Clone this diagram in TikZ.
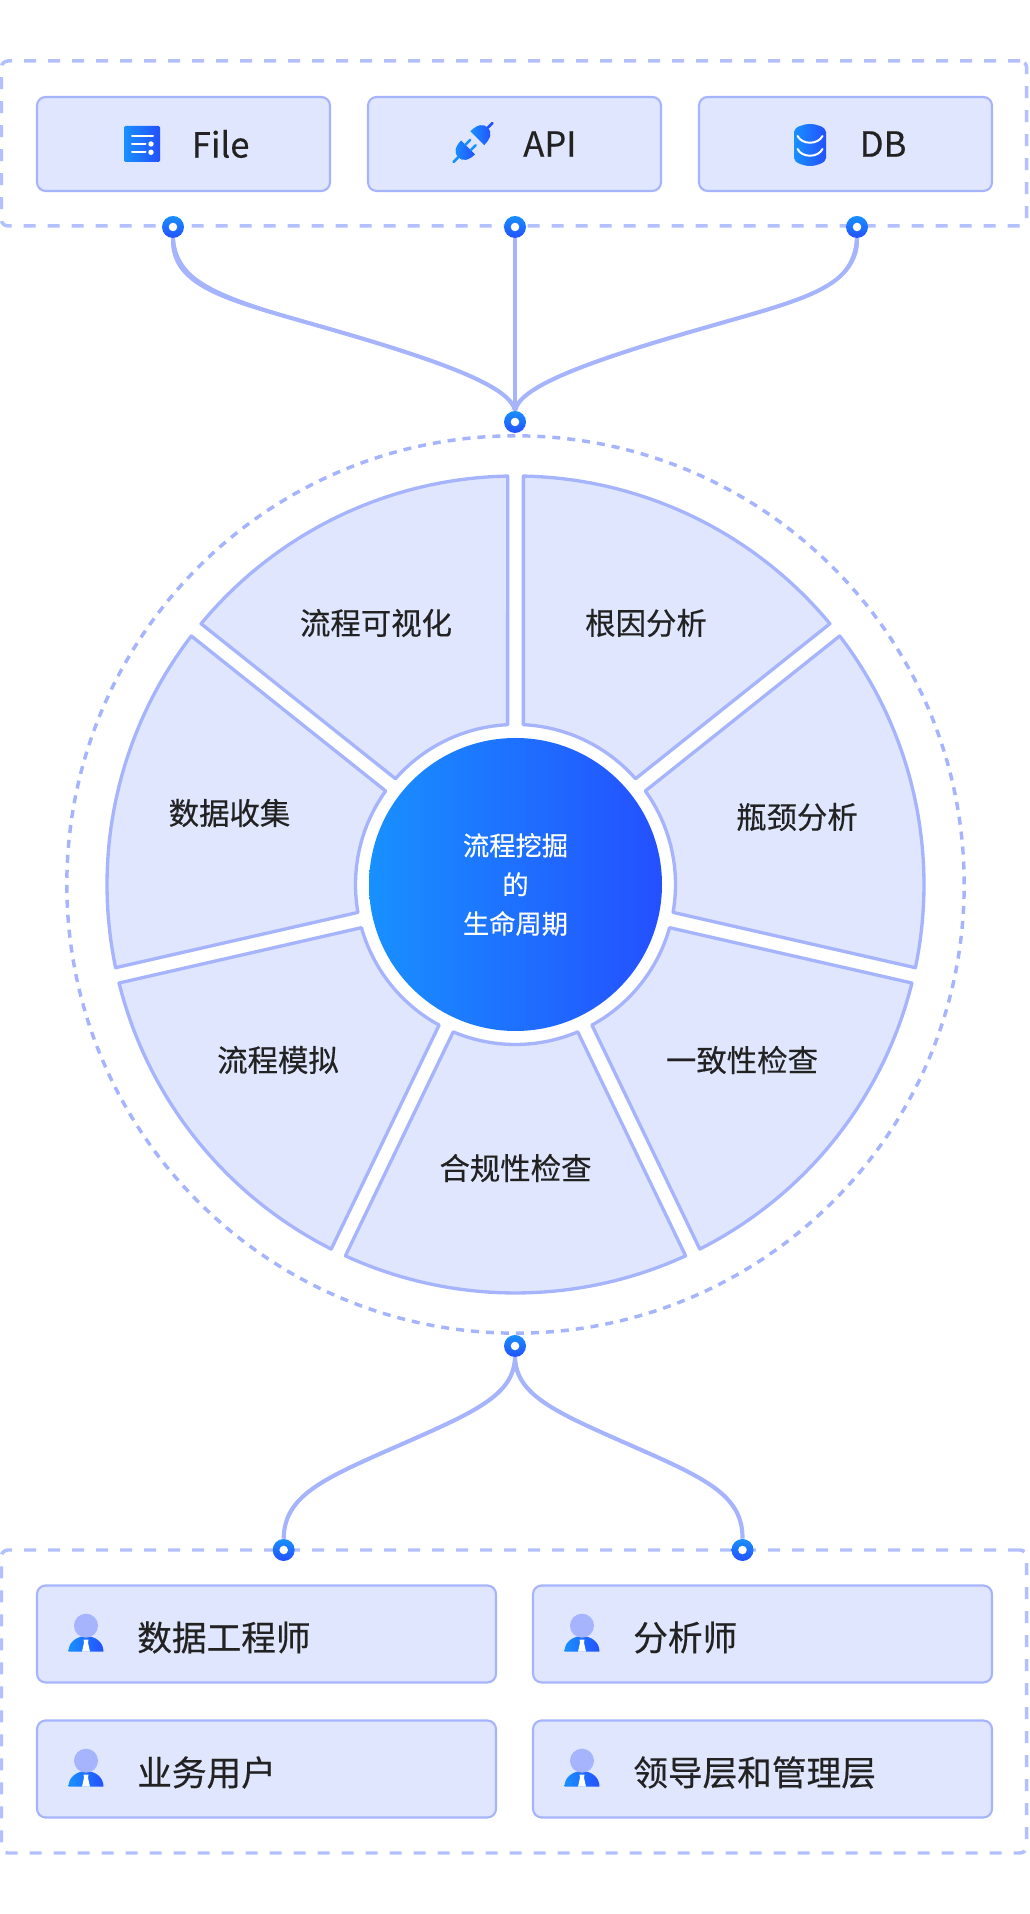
\documentclass[tikz,border=0pt]{standalone}
\usepackage{fontspec}
\setmainfont{Noto Sans CJK SC}[RawFeature={embolden=0.4}]
\usetikzlibrary{calc}

\definecolor{boxfill}{HTML}{DFE6FD}
\definecolor{boxline}{HTML}{A6B4FE}
\definecolor{dashline}{HTML}{B3C0FF}
\definecolor{gradA}{HTML}{1890FF}
\definecolor{gradB}{HTML}{2450FF}
\definecolor{inkc}{HTML}{222222}

\tikzset{
  groupbox/.style={draw=dashline, line width=2.6pt, dash pattern=on 9pt off 9pt, rounded corners=5pt, minimum width=769pt, inner sep=0pt},
  srcbox/.style={draw=boxline, fill=boxfill, line width=1.6pt, rounded corners=6.5pt, minimum width=219.75pt, minimum height=70.5pt, inner sep=0pt},
  usrbox/.style={draw=boxline, fill=boxfill, line width=1.6pt, rounded corners=6.5pt, minimum width=344.25pt, minimum height=72.75pt, inner sep=0pt},
  dotc/.style={circle, minimum size=16.5pt, inner sep=0pt, top color=gradA, bottom color=gradB, path picture={\fill[white] (path picture bounding box.center) circle (3.2pt);}},
  link/.style={draw=boxline, line width=3.1pt},
  flare/.style={fill=boxline},
  sector/.style={draw=boxline, fill=boxfill, line width=2.5pt, line join=round},
  bigtext/.style={text=inkc, font=\fontsize{26}{30}\selectfont, inner sep=0pt},
  wheeltext/.style={text=inkc, font=\fontsize{22.8}{27}\selectfont, inner sep=0pt},
  person icon/.pic={
    \shade[left color=gradA, right color=gradB] (-17.5,-26) .. controls (-17.5,-16) and (-9,-10.5) .. (0,-10.5) .. controls (9,-10.5) and (17.5,-16) .. (17.5,-26) -- cycle;
    \fill[boxline] (0,0) circle (12);
    \fill[white] (-2.5,-14) -- (2.5,-14) -- (2,-17) -- (4,-26) -- (-4,-26) -- (-2,-17) -- cycle;
  }
}

\begin{document}
\begin{tikzpicture}[x=0.75pt, y=0.75pt]
 \useasboundingbox (0,0) rectangle (1029,1914);

 %group frames
 \node[groupbox, minimum height=123.75pt] (srcGroup) at (514,1770.5) {};
 \node[groupbox, minimum height=227.25pt] (usrGroup) at (514,212.5) {};
 \node[circle, draw=boxline, line width=2.6pt, dash pattern=on 6pt off 5.25pt, minimum size=673pt, inner sep=0pt] (ring) at (515.5,1029.5) {};

 %source boxes
 \foreach \x/\name in {183.5/fileBox, 514.5/apiBox, 845.5/dbBox} {
   \node[srcbox] (\name) at (\x,1770) {};
 }
 \node[bigtext, anchor=west] (fileText) at (191.5,1770) {File};
 \node[bigtext, anchor=west] (apiText) at (523,1770) {API};
 \node[bigtext, anchor=west] (dbText) at (859.5,1770) {DB};

 %file icon
 \shade[left color=gradA, right color=gradB, rounded corners=1pt] (124,1752) rectangle (160,1788);
 \draw[white, line width=1.5pt, line cap=round] (132,1778.3) -- (153,1778.3) (132,1770) -- (145.5,1770) (132,1761.7) -- (145.5,1761.7);
 \fill[white] (151,1770) circle (2.7) (151,1761.7) circle (2.7);

 %plug icon
 \begin{scope}[shift={(473,1771.5)}, rotate=45]
   \shade[left color=gradA, right color=gradB] (6,-9.8) -- (6,9.8) .. controls (16,9.8) and (21,6) .. (21,0) .. controls (21,-6) and (16,-9.8) .. (6,-9.8);
   \shade[left color=gradA, right color=gradB] (-7,-9.8) -- (-7,9.8) .. controls (-16,9.8) and (-21,6) .. (-21,0) .. controls (-21,-6) and (-16,-9.8) .. (-7,-9.8);
   \draw[gradB, line width=1.9pt, line cap=round] (21,0) -- (27.5,0);
   \draw[gradA, line width=1.9pt, line cap=round] (-21,0) -- (-27.5,0) (-7,3.8) -- (0,3.8) (-7,-3.8) -- (0,-3.8);
 \end{scope}

 %db icon
 \shade[left color=gradA, right color=gradB] (794,1782) .. controls (794,1787) and (804,1790) .. (810,1790) .. controls (816,1790) and (826,1787) .. (826,1782) -- (826,1756) .. controls (826,1751) and (816,1748) .. (810,1748) .. controls (804,1748) and (794,1751) .. (794,1756) -- cycle;
 \draw[white, line width=1.5pt, line cap=round] (797.5,1778) .. controls (802,1769) and (818,1769) .. (822.5,1778) (797.5,1765) .. controls (802,1756) and (818,1756) .. (822.5,1765);

 %sectors
 \begin{scope}[shift={(515.5,1029.5)}]
 \foreach \i in {0,...,6} {
   \pgfmathsetmacro{\a}{90-\i*360/7-1.1}
   \pgfmathsetmacro{\b}{90-(\i+1)*360/7+1.1}
   \pgfmathsetmacro{\c}{90-(\i+1)*360/7+2.81}
   \pgfmathsetmacro{\d}{90-\i*360/7-2.81}
   \draw[sector] (\a:408.5) arc[start angle=\a, end angle=\b, radius=408.5] -- (\c:160) arc[start angle=\c, end angle=\d, radius=160] -- cycle;
 }
 \end{scope}

 %wheel labels
 \foreach \x/\y/\name/\txt in {376/1291/wheelA/流程可视化, 646/1291/wheelB/根因分析, 797/1097/wheelC/瓶颈分析, 742/854/wheelD/一致性检查, 515.5/746/wheelE/合规性检查, 278/854/wheelF/流程模拟, 229.5/1101/wheelG/数据收集} {
   \node[wheeltext] (\name) at (\x,\y) {\txt};
 }

 %center disc
 \node[circle, minimum size=219.75pt, inner sep=0pt, left color=gradA, right color=gradB, text=white, align=center, font=\fontsize{19.7}{29.3}\selectfont] (coreDisc) at (515.5,1029.5) {流程挖掘\\的\\生命周期};

 %dots
 \node[dotc] (fileDot) at (173,1687) {};
 \node[dotc] (apiDot) at (515,1687) {};
 \node[dotc] (dbDot) at (857,1687) {};
 \node[dotc] (hubTop) at (515,1492) {};
 \node[dotc] (hubBottom) at (515,568) {};
 \node[dotc] (usrLeft) at (283.7,364) {};
 \node[dotc] (usrRight) at (742.5,364) {};

 %connectors
 \draw[link] (apiDot.south) -- (hubTop.north);
 \foreach \src/\sa/\sb/\m/\sc/\sd in {fileDot/174/230/340/450/511, dbDot/856/800/690/580/519} {
   \draw[link] (\src.south) .. controls (\sa,1624) and (\sb,1614) .. (\m,1582) .. controls (\sc,1550) and (\sd,1526) .. (hubTop.north);
   \fill[flare] ($(\src.south)+(-2,0)$) .. controls (\sa-4.5,1624) and (\sb-1,1611) .. (\m,1582) .. controls (\sb+1,1617) and (\sa+4.5,1627) .. ($(\src.south)+(2,0)$) -- cycle;
   \fill[flare] ($(hubTop.north)+(-1.5,0)$) .. controls (\sd-4,1526) and (\sc,1548) .. (\m,1582) .. controls (\sc,1552) and (\sd+4,1526) .. ($(hubTop.north)+(1.5,0)$) -- cycle;
 }
 \foreach \dst/\sa/\sb/\m/\sc/\sd in {usrLeft/514/475/400/325/284, usrRight/516/555/630/705/743} {
   \draw[link] (hubBottom.south) .. controls (\sa,519) and (\sb,502) .. (\m,469) .. controls (\sc,436) and (\sd,419) .. (\dst.north);
   \fill[flare] ($(hubBottom.south)+(-1.5,0)$) .. controls (\sa-3,519) and (\sb,500) .. (\m,469) .. controls (\sb,504) and (\sa+3,519) .. ($(hubBottom.south)+(1.5,0)$) -- cycle;
 }

 %user boxes
 \foreach \x/\y/\name/\ttx/\txt in {266.5/280/usrA/usrAText/数据工程师, 762.5/280/usrB/usrBText/分析师, 266.5/145/usrC/usrCText/业务用户, 762.5/145/usrD/usrDText/领导层和管理层} {
   \node[usrbox] (\name) at (\x,\y) {};
   \pic at (\x-180.5,\y+8.3) {person icon};
   \node[bigtext, anchor=west] (\ttx) at (\x-129.5,\y-3.5) {\txt};
 }
\end{tikzpicture}
\end{document}
